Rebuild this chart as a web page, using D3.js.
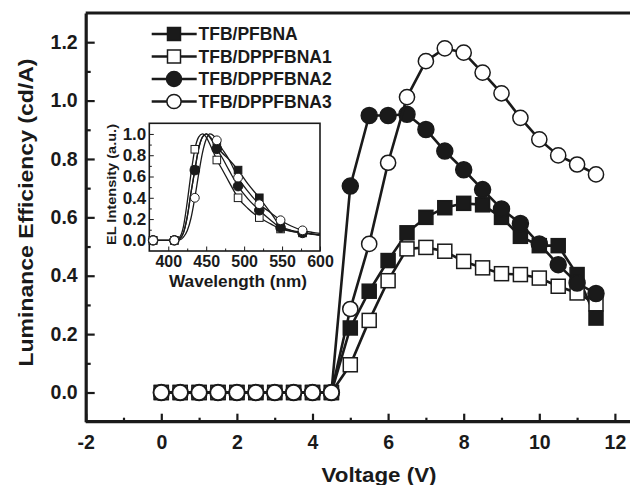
<!DOCTYPE html>
<html lang="en">
<head>
<meta charset="utf-8">
<title>Luminance efficiency vs voltage</title>
<script src="https://d3js.org/d3.v7.min.js"></script>
<style>
  body { margin: 0; background: #fff; }
  svg { display: block; font-family: "Liberation Sans", Arial, sans-serif; font-weight: bold; }
  svg text { font-family: "Liberation Sans", Arial, sans-serif; }
  .axis text { fill: #1a1a1a; }
  .axis line, .axis path { stroke: #1a1a1a; }
</style>
</head>
<body>
<script>
// main data: voltage sweep
const voltage = [0, 0.5, 1, 1.5, 2, 2.5, 3, 3.5, 4, 4.5, 5, 5.5, 6, 6.5, 7, 7.5, 8, 8.5, 9, 9.5, 10, 10.5, 11, 11.5];
const pfbna   = [0,0,0,0,0,0,0,0,0,0, 0.221, 0.347, 0.452, 0.547, 0.600, 0.633, 0.648, 0.643, 0.600, 0.535, 0.503, 0.503, 0.404, 0.255];
const dppf1   = [0,0,0,0,0,0,0,0,0,0, 0.095, 0.247, 0.383, 0.492, 0.497, 0.484, 0.449, 0.427, 0.407, 0.404, 0.392, 0.364, 0.341, 0.304];
const dppf2   = [0,0,0,0,0,0,0,0,0,0, 0.707, 0.949, 0.949, 0.953, 0.901, 0.827, 0.763, 0.695, 0.629, 0.579, 0.509, 0.438, 0.375, 0.339];
const dppf3   = [0,0,0,0,0,0,0,0,0,0, 0.286, 0.509, 0.787, 1.012, 1.135, 1.179, 1.164, 1.096, 1.025, 0.941, 0.867, 0.812, 0.781, 0.747];
const names   = ["TFB/PFBNA", "TFB/DPPFBNA1", "TFB/DPPFBNA2", "TFB/DPPFBNA3"];

// inset data: EL spectra
const wavelength = [375, 380, 395, 408, 415, 420, 425, 430, 435, 440, 445, 450, 455, 460, 464, 470, 480, 492, 505, 520, 535, 548, 562, 577, 590, 600];
const elPfbna = [0, 0, 0, 0, 0.015, 0.07, 0.22, 0.45, 0.66, 0.86, 0.97, 1.0, 0.975, 0.93, 0.885, 0.83, 0.76, 0.66, 0.53, 0.40, 0.26, 0.135, 0.095, 0.075, 0.06, 0.05];
const elDppf1 = [0, 0, 0, 0, 0.03, 0.13, 0.36, 0.63, 0.856, 0.97, 1.0, 0.97, 0.90, 0.82, 0.755, 0.68, 0.55, 0.40, 0.30, 0.214, 0.155, 0.107, 0.085, 0.07, 0.058, 0.05];
const elDppf2 = [0, 0, 0, 0, 0.015, 0.07, 0.22, 0.45, 0.66, 0.86, 0.97, 1.0, 0.965, 0.91, 0.86, 0.79, 0.66, 0.51, 0.39, 0.283, 0.19, 0.12, 0.088, 0.07, 0.057, 0.05];
const elDppf3 = [0, 0, 0, 0, 0.005, 0.03, 0.09, 0.21, 0.40, 0.62, 0.82, 0.95, 1.0, 0.98, 0.94, 0.87, 0.76, 0.59, 0.46, 0.34, 0.26, 0.189, 0.135, 0.094, 0.075, 0.065];
const markerWl = [380, 408, 435, 464, 492, 520, 548, 577];

const W = 630, H = 485;
const ink = "#1a1a1a";
const shapes = ["sqFill", "sqOpen", "ciFill", "ciOpen"];

const svg = d3.select("body").append("svg").attr("width", W).attr("height", H);

// scales
const x = d3.scaleLinear().domain([-2, 12.5]).range([85.7, 633.8]);
const y = d3.scaleLinear().domain([-0.1, 1.3]).range([421.7, 13]);

// frame top line
svg.append("line").attr("x1", x(-2)).attr("x2", W + 5).attr("y1", y(1.3)).attr("y2", y(1.3))
  .attr("stroke", ink).attr("stroke-width", 3.2);

// minor ticks
svg.append("g").attr("class", "axis").attr("transform", `translate(0,${y(-0.1)})`)
  .call(d3.axisBottom(x).tickValues([-1, 1, 3, 5, 7, 9, 11]).tickSize(-4).tickFormat(""))
  .call(g => g.select(".domain").remove())
  .selectAll("line").attr("stroke-width", 2.2);
svg.append("g").attr("class", "axis").attr("transform", `translate(${x(-2)},0)`)
  .call(d3.axisLeft(y).tickValues([0.1, 0.3, 0.5, 0.7, 0.9, 1.1]).tickSize(-5).tickFormat(""))
  .call(g => g.select(".domain").remove())
  .selectAll("line").attr("stroke-width", 2.2);

// major axes
const xAxis = svg.append("g").attr("class", "axis").attr("transform", `translate(0,${y(-0.1)})`)
  .call(d3.axisBottom(x).tickValues([-2, 0, 2, 4, 6, 8, 10, 12]).tickSize(-8).tickSizeOuter(0).tickPadding(13).tickFormat(d => String(d)));
xAxis.attr("font-family", null);
xAxis.select(".domain").attr("stroke-width", 3.2).attr("d", `M${x(-2)},0H${W + 5}`);
xAxis.selectAll("line").attr("stroke-width", 2.2);
xAxis.selectAll("text").attr("font-size", 19.5).attr("font-weight", "bold");

const yAxis = svg.append("g").attr("class", "axis").attr("transform", `translate(${x(-2)},0)`)
  .call(d3.axisLeft(y).tickValues([0, 0.2, 0.4, 0.6, 0.8, 1.0, 1.2]).tickSize(-9).tickSizeOuter(0).tickPadding(8).tickFormat(d3.format(".1f")));
yAxis.attr("font-family", null);
yAxis.select(".domain").attr("stroke-width", 3.2);
yAxis.selectAll("line").attr("stroke-width", 2.2);
yAxis.selectAll("text").attr("font-size", 19.5).attr("font-weight", "bold");

// axis titles
svg.append("text").text("Voltage (V)")
  .attr("x", 379).attr("y", 482).attr("text-anchor", "middle")
  .attr("font-size", 21).attr("textLength", 115).attr("lengthAdjust", "spacingAndGlyphs").attr("fill", ink);
svg.append("text").text("Luminance Efficiency (cd/A)")
  .attr("transform", "translate(33,212.5) rotate(-90)").attr("text-anchor", "middle")
  .attr("font-size", 21).attr("textLength", 308).attr("lengthAdjust", "spacingAndGlyphs").attr("fill", ink);

// marker helper
function marker(g, kind, cx, cy, s) {
  if (kind.startsWith("sq")) {
    g.append("rect").attr("x", cx - s).attr("y", cy - s).attr("width", 2 * s).attr("height", 2 * s)
      .attr("fill", kind === "sqFill" ? ink : "#fff").attr("stroke", ink).attr("stroke-width", s > 5 ? 1.5 : 1);
  } else {
    g.append("circle").attr("cx", cx).attr("cy", cy).attr("r", s + (kind === "ciFill" ? 1 : 0.6))
      .attr("fill", kind === "ciFill" ? ink : "#fff").attr("stroke", ink).attr("stroke-width", s > 5 ? 1.5 : 1);
  }
}

// main series
const series = [pfbna, dppf1, dppf2, dppf3];
const line = d3.line().x(d => x(d[0])).y(d => y(d[1]));
series.forEach((vals, i) => {
  const pts = voltage.map((v, j) => [v, vals[j]]);
  const g = svg.append("g");
  g.append("path").datum(pts).attr("d", line).attr("fill", "none").attr("stroke", ink).attr("stroke-width", 2.6);
  pts.forEach(p => marker(g, shapes[i], x(p[0]), y(p[1]), 7));
});

// legend
const leg = svg.append("g");
names.forEach((n, i) => {
  const ly = 34 + i * 22.5;
  leg.append("line").attr("x1", 151.7).attr("x2", 196.7).attr("y1", ly).attr("y2", ly)
    .attr("stroke", ink).attr("stroke-width", 2.6);
  marker(leg, shapes[i], 174, ly, 6.5);
  leg.append("text").text(n).attr("x", 198.5).attr("y", ly).attr("dy", "0.36em")
    .attr("font-size", 17.5).attr("fill", ink);
});

// inset
const ix = d3.scaleLinear().domain([375, 600]).range([149.3, 320]);
const iy = d3.scaleLinear().domain([-0.1, 1.1]).range([251, 123.3]);
const inset = svg.append("g");
inset.append("rect").attr("x", ix(375)).attr("y", iy(1.1)).attr("width", ix(600) - ix(375)).attr("height", iy(-0.1) - iy(1.1))
  .attr("fill", "#fff").attr("stroke", ink).attr("stroke-width", 1.6);

inset.append("g").attr("class", "axis").attr("transform", `translate(0,${iy(-0.1)})`)
  .call(d3.axisBottom(ix).tickValues([425, 475, 525, 575]).tickSize(-2.5).tickFormat(""))
  .call(g => g.select(".domain").remove());
const ixAxis = inset.append("g").attr("class", "axis").attr("transform", `translate(0,${iy(-0.1)})`)
  .call(d3.axisBottom(ix).tickValues([400, 450, 500, 550, 600]).tickSize(-4.5).tickSizeOuter(0).tickPadding(5));
ixAxis.attr("font-family", null);
ixAxis.select(".domain").remove();
ixAxis.selectAll("text").attr("font-size", 16).attr("font-weight", "bold");

inset.append("g").attr("class", "axis").attr("transform", `translate(${ix(375)},0)`)
  .call(d3.axisLeft(iy).tickValues([0.1, 0.3, 0.5, 0.7, 0.9]).tickSize(-2.5).tickFormat(""))
  .call(g => g.select(".domain").remove());
const iyAxis = inset.append("g").attr("class", "axis").attr("transform", `translate(${ix(375)},0)`)
  .call(d3.axisLeft(iy).tickValues([0, 0.2, 0.4, 0.6, 0.8, 1.0]).tickSize(-4.5).tickSizeOuter(0).tickPadding(3).tickFormat(d3.format(".1f")));
iyAxis.attr("font-family", null);
iyAxis.select(".domain").remove();
iyAxis.selectAll("text").attr("font-size", 17).attr("font-weight", "bold");

inset.append("text").text("Wavelength (nm)")
  .attr("x", 238).attr("y", 286.5).attr("text-anchor", "middle")
  .attr("font-size", 16).attr("textLength", 138).attr("lengthAdjust", "spacingAndGlyphs").attr("fill", ink);
inset.append("text").text("EL Intensity (a.u.)")
  .attr("transform", "translate(116,184.5) rotate(-90)").attr("text-anchor", "middle")
  .attr("font-size", 13.5).attr("textLength", 121).attr("lengthAdjust", "spacingAndGlyphs").attr("fill", ink);

const spectra = [elPfbna, elDppf1, elDppf2, elDppf3];
const iline = d3.line().x(d => ix(d[0])).y(d => iy(d[1])).curve(d3.curveMonotoneX);
spectra.forEach(vals => {
  const pts = wavelength.map((w, j) => [w, vals[j]]);
  inset.append("path").datum(pts).attr("d", iline).attr("fill", "none").attr("stroke", ink).attr("stroke-width", 1.3);
});
spectra.forEach((vals, i) => {
  markerWl.forEach(w => marker(inset, shapes[i], ix(w), iy(vals[wavelength.indexOf(w)]), 3.8));
});
</script>
</body>
</html>
